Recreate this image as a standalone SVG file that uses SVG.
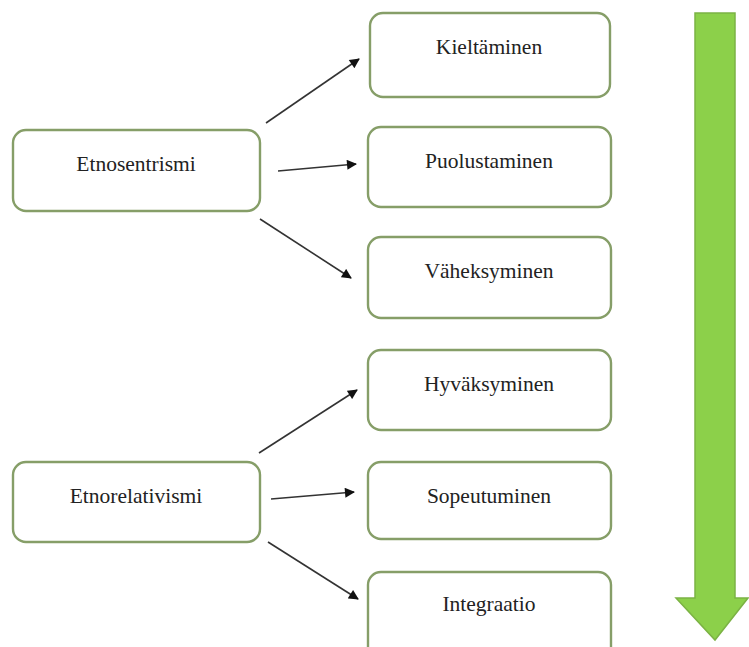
<svg xmlns="http://www.w3.org/2000/svg" width="749" height="647" viewBox="0 0 749 647">
<style>
.box{fill:#ffffff;stroke:#869e68;stroke-width:2.4}
.lbl{font-family:"Liberation Serif","Times New Roman",serif;font-size:21.5px;fill:#222;text-anchor:middle}
.con{stroke:#333;stroke-width:1.6;fill:none;marker-end:url(#ah)}
</style>
<defs>
<marker id="ah" viewBox="0 0 10 10" refX="9" refY="5" markerWidth="11" markerHeight="10" markerUnits="userSpaceOnUse" orient="auto">
<path d="M0,0 L10,5 L0,10 z" fill="#111"/>
</marker>
</defs>
<rect width="749" height="647" fill="#ffffff"/>
<g id="etnosentrismi"><rect class="box" x="13" y="130" width="247" height="81" rx="13"/><text class="lbl" x="136" y="171">Etnosentrismi</text></g>
<g id="kieltaminen"><rect class="box" x="370" y="13" width="240" height="84" rx="13"/><text class="lbl" x="489" y="54">Kieltäminen</text></g>
<g id="puolustaminen"><rect class="box" x="368" y="127" width="243" height="80" rx="13"/><text class="lbl" x="489" y="168">Puolustaminen</text></g>
<g id="vaheksyminen"><rect class="box" x="368" y="237" width="243" height="81" rx="13"/><text class="lbl" x="489" y="278">Väheksyminen</text></g>
<g id="hyvaksyminen"><rect class="box" x="368" y="350" width="243" height="80" rx="13"/><text class="lbl" x="489" y="391">Hyväksyminen</text></g>
<g id="sopeutuminen"><rect class="box" x="368" y="462" width="243" height="77" rx="13"/><text class="lbl" x="489" y="503">Sopeutuminen</text></g>
<g id="integraatio"><rect class="box" x="368" y="572" width="243" height="90" rx="13"/><text class="lbl" x="489" y="611">Integraatio</text></g>
<g id="etnorelativismi"><rect class="box" x="13" y="462" width="247" height="80" rx="13"/><text class="lbl" x="136" y="503">Etnorelativismi</text></g>
<g id="bigarrow"><path d="M695,13 L735,13 L735,598 L748,598 L715,640 L676,598 L695,598 Z" fill="#8cd04a" stroke="#7bb244" stroke-width="1.5"/></g>
<g id="connectors">
<line class="con" x1="266" y1="123" x2="359" y2="59"/>
<line class="con" x1="278" y1="171" x2="356" y2="164"/>
<line class="con" x1="260" y1="219" x2="351" y2="278"/>
<line class="con" x1="259" y1="453" x2="357" y2="390"/>
<line class="con" x1="271" y1="499" x2="354" y2="492"/>
<line class="con" x1="268" y1="542" x2="358" y2="599"/>
</g>
</svg>
